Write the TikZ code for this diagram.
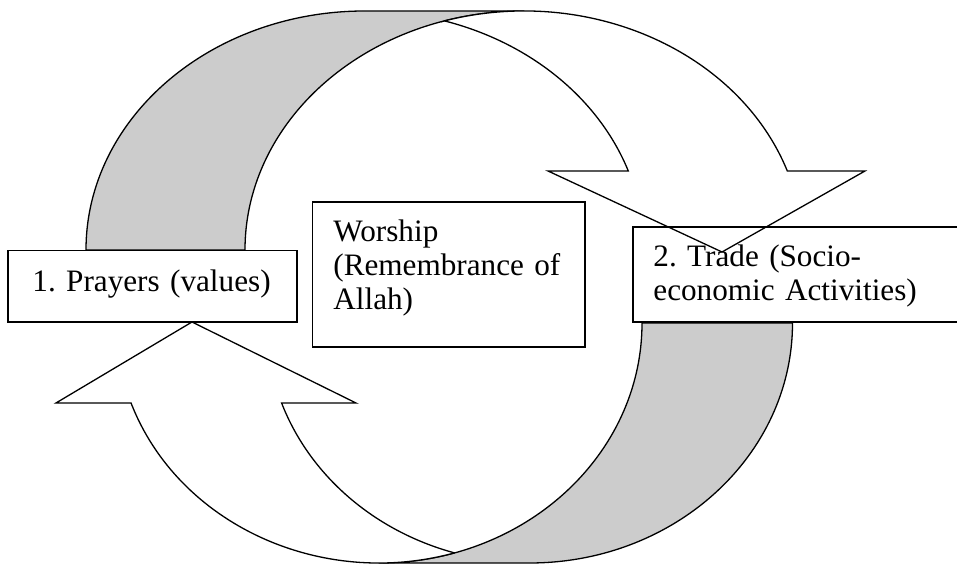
\documentclass[tikz,border=0pt]{standalone}
\usepackage{fontspec}
\setmainfont{Liberation Serif}
\frenchspacing

\begin{document}
\begin{tikzpicture}[x=0.5pt,y=0.5pt,
        back/.style={draw=black, fill=black!20, line width=0.65pt, line join=round},
        front/.style={draw=black, fill=white, line width=0.65pt, line join=miter},
        box/.style={draw=black, line width=0.7pt, inner sep=0pt, outer sep=0pt, anchor=north west},
        txt/.style={anchor=base west, inner sep=0pt, text width=160pt, align=left,
                    font=\fontsize{15.6pt}{17pt}\selectfont}]
                \useasboundingbox (0,0) rectangle (957,565);

                % ellipse centres of the two curved arrows
                \coordinate (e1) at (365,315);
                \coordinate (e2) at (524,315);
                \coordinate (e3) at (379,242);
                \coordinate (e4) at (529.5,242);

                % upper arrow, from prayers to trade
                \filldraw[back] (e1) ++(180:139.5pt and 119.5pt)
                        arc[start angle=180, end angle=90, x radius=139.5pt, y radius=119.5pt]
                        -- ++(159,0)
                        arc[start angle=90, end angle=180, x radius=139.5pt, y radius=119.5pt] -- cycle;
                \filldraw[front] (e2) ++(106.56:139.5pt and 119.5pt)
                        arc[start angle=106.56, end angle=19.3, x radius=139.5pt, y radius=119.5pt]
                        -- (865,394) -- (722,313) -- (548,394) -- (628.3,394)
                        arc[start angle=19.3, end angle=73.44, x radius=139.5pt, y radius=119.5pt] -- cycle;

                % lower arrow, from trade back to prayers
                \filldraw[back] (e4) ++(0:131.5pt and 120pt)
                        arc[start angle=0, end angle=-90, x radius=131.5pt, y radius=120pt]
                        -- ++(-150.5,0)
                        arc[start angle=-90, end angle=0, x radius=131.5pt, y radius=120pt] -- cycle;
                \filldraw[front] (e3) ++(-73.37:131.5pt and 120pt)
                        arc[start angle=-73.37, end angle=-160.5, x radius=131.5pt, y radius=120pt]
                        -- (56,162) -- (192,243) -- (356,162) -- (281.6,162)
                        arc[start angle=-160.5, end angle=-106.63, x radius=131.5pt, y radius=120pt] -- cycle;

                % boxes
                \node[box, minimum width=144.5pt, minimum height=35.75pt] (prayers) at (8,314.5) {};
                \node[box, minimum width=136.25pt, minimum height=72.5pt] (worship) at (312.5,363) {};
                \node[box, minimum width=165pt, minimum height=47.5pt] (trade) at (633,338) {};

                \node[txt] (prayers text) at ([shift={(24,-41)}]prayers.north west) {1. Prayers (values)};
                \node[txt] (worship text) at ([shift={(20.5,-40)}]worship.north west) {Worship\\(Remembrance of\\Allah)};
                \node[txt] (trade text) at ([shift={(20,-40)}]trade.north west) {2. Trade (Socio-\\economic Activities)};
\end{tikzpicture}
\end{document}
